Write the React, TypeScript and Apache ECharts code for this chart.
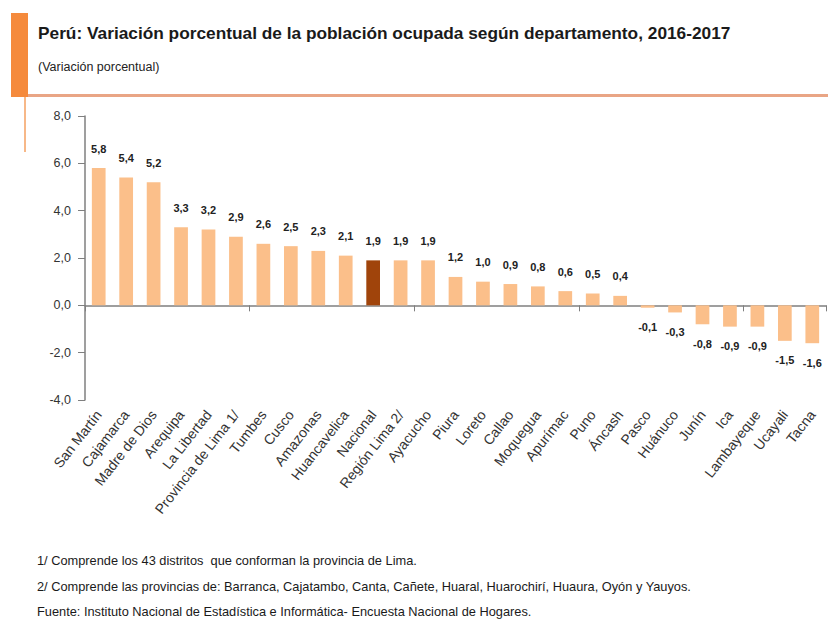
import React, { useEffect, useRef } from "react";
import * as echarts from "echarts";

const categories = [
  "San Martín", "Cajamarca", "Madre de Dios", "Arequipa", "La Libertad",
  "Provincia de Lima 1/", "Tumbes", "Cusco", "Amazonas", "Huancavelica",
  "Nacional", "Región Lima 2/", "Ayacucho", "Piura", "Loreto", "Callao",
  "Moquegua", "Apurímac", "Puno", "Áncash", "Pasco", "Huánuco", "Junín",
  "Ica", "Lambayeque", "Ucayali", "Tacna",
];
const values = [
  5.8, 5.4, 5.2, 3.3, 3.2, 2.9, 2.6, 2.5, 2.3, 2.1, 1.9, 1.9, 1.9, 1.2, 1.0,
  0.9, 0.8, 0.6, 0.5, 0.4, -0.1, -0.3, -0.8, -0.9, -0.9, -1.5, -1.6,
];
const highlight = "Nacional";
const yTicks = { min: -4, max: 8, interval: 2 };

const title = "Perú: Variación porcentual de la población ocupada según departamento, 2016-2017";
const subtitle = "(Variación porcentual)";
const notes = [
  "1/ Comprende los 43 distritos  que conforman la provincia de Lima.",
  "2/ Comprende las provincias de: Barranca, Cajatambo, Canta, Cañete, Huaral, Huarochirí, Huaura, Oyón y Yauyos.",
  "Fuente: Instituto Nacional de Estadística e Informática- Encuesta Nacional de Hogares.",
];

const fmt = (v: number) => v.toFixed(1).replace(".", ",");

export default function App() {
  const ref = useRef<HTMLDivElement>(null);
  useEffect(() => {
    if (!ref.current) return;
    const chart = echarts.init(ref.current, null, { renderer: "svg" });
    const font = "Liberation Sans, Arial, sans-serif";
    chart.setOption({
      animation: false,
      backgroundColor: "#ffffff",
      textStyle: { fontFamily: font },
      grid: { left: 85, right: 2, top: 116, bottom: 220, containLabel: false },
      xAxis: [
        {
          type: "category",
          data: categories,
          axisLine: { onZero: true, lineStyle: { color: "#7f7f7f", width: 1.5 } },
          axisTick: { show: true, alignWithLabel: false, length: 6, lineStyle: { color: "#7f7f7f" } },
          axisLabel: { show: false },
          splitLine: { show: false },
        },
        {
          type: "category",
          data: categories,
          position: "bottom",
          axisLine: { show: false, onZero: false },
          axisTick: { show: false },
          axisLabel: {
            show: true,
            interval: 0,
            rotate: 52,
            margin: 12,
            fontSize: 14,
            color: "#333333",
            fontFamily: font,
          },
          splitLine: { show: false },
        },
      ],
      yAxis: {
        type: "value",
        min: yTicks.min,
        max: yTicks.max,
        interval: yTicks.interval,
        axisLine: { show: true, lineStyle: { color: "#7f7f7f", width: 1.5 } },
        axisTick: { show: true, length: 7, lineStyle: { color: "#7f7f7f" } },
        axisLabel: { formatter: (v: number) => fmt(v), fontSize: 12.5, color: "#333333", margin: 14 },
        splitLine: { show: false },
      },
      series: [
        {
          type: "bar",
          xAxisIndex: 0,
          barWidth: "50%",
          data: values.map((v, i) => ({
            value: v,
            itemStyle: { color: categories[i] === highlight ? "#A0440B" : "#FBBF8A" },
            label: { position: v >= 0 ? "top" : "bottom" },
          })),
          label: {
            show: true,
            distance: 14,
            fontSize: 11,
            fontWeight: "bold",
            color: "#222222",
            formatter: (p: any) => fmt(p.value),
          },
        },
      ],
      graphic: [
        { type: "rect", shape: { x: 11, y: 13, width: 17, height: 84 }, style: { fill: "#F58A3C" } },
        { type: "line", shape: { x1: 28, y1: 95.5, x2: 828, y2: 95.5 }, style: { stroke: "#E9A585", lineWidth: 3 } },
        { type: "line", shape: { x1: 25, y1: 97, x2: 25, y2: 152 }, style: { stroke: "#F5A060", lineWidth: 1.5 } },
        {
          type: "text", x: 38, y: 24,
          style: { text: title, fontSize: 17.3, fontWeight: "bold", fill: "#1a1a1a", fontFamily: font },
        },
        {
          type: "text", x: 38, y: 60,
          style: { text: subtitle, fontSize: 12.5, fill: "#222222", fontFamily: font },
        },
        ...notes.map((t, i) => ({
          type: "text", x: 37, y: [554, 580, 605][i],
          style: { text: t, fontSize: 12.8, fill: "#1a1a1a", fontFamily: font },
        })),
      ],
    });
    return () => chart.dispose();
  }, []);
  return <div ref={ref} style={{ width: 828, height: 620, position: "absolute", left: 0, top: 0 }} />;
}
